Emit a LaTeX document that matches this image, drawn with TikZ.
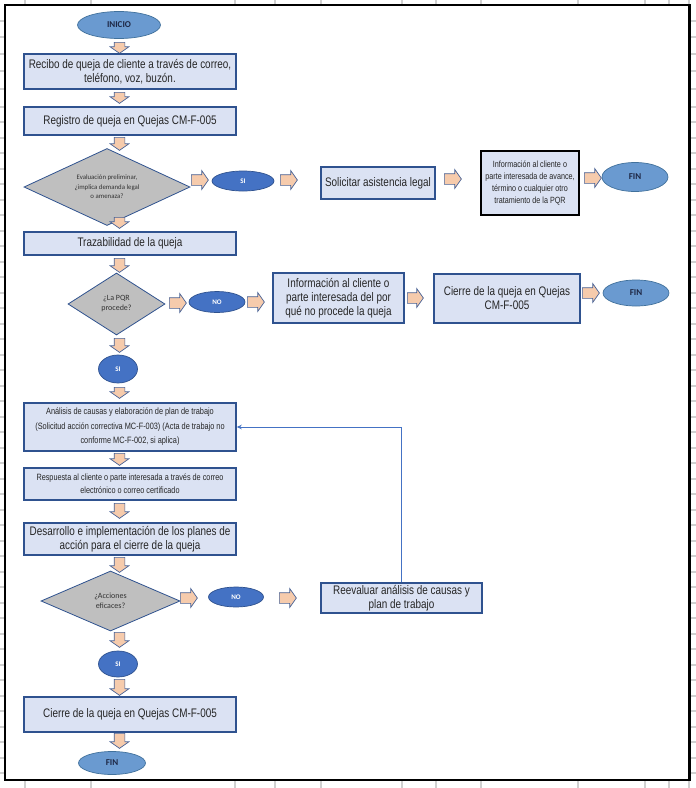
\documentclass[tikz,border=0pt]{standalone}
\usepackage{fontspec}
\newfontfamily\narrowfont[FakeStretch=0.8]{Liberation Sans}
\newfontfamily\calib{Carlito}
\usetikzlibrary{shapes.geometric,shapes.arrows,arrows.meta}
\definecolor{boxfill}{RGB}{219,226,243}
\definecolor{bdr}{RGB}{47,82,143}
\definecolor{abdr}{RGB}{72,98,150}
\definecolor{peach}{RGB}{246,203,172}
\definecolor{diagray}{RGB}{191,191,191}
\definecolor{darkblue}{RGB}{68,114,196}
\definecolor{termblue}{RGB}{106,154,208}
\definecolor{termbdr}{RGB}{65,113,156}
\definecolor{termtext}{RGB}{30,40,70}
\definecolor{gridc}{RGB}{208,208,208}
\begin{document}
\begin{tikzpicture}[x=1pt,y=-1pt,
  box/.style={draw=bdr, line width=1.5pt, fill=boxfill, align=center, inner sep=1pt,
    font=\narrowfont\fontsize{12.4}{14}\selectfont, text=black!85},
  smallbox/.style={box, font=\narrowfont\fontsize{9.2}{14.5}\selectfont},
  dia/.style={diamond, draw=bdr, line width=0.8pt, fill=diagray, align=center, inner sep=0pt,
    font=\calib\fontsize{6.8}{9.5}\selectfont, text=black!80},
  bigdia/.style={dia, font=\calib\fontsize{8}{10}\selectfont},
  yesno/.style={ellipse, draw=bdr, line width=0.7pt, fill=darkblue, text=white,
    font=\calib\bfseries\fontsize{7}{8}\selectfont, inner sep=0pt},
  term/.style={ellipse, draw=termbdr, line width=0.7pt, fill=termblue, text=termtext,
    font=\calib\bfseries\fontsize{9}{10}\selectfont, inner sep=0pt},
  barrow/.style={single arrow, draw=abdr, fill=peach, line width=0.7pt, inner xsep=0pt,
    inner ysep=5pt, single arrow head extend=4pt, single arrow tip angle=110,
    minimum height=#1, anchor=tail},
  barrow/.default=17pt,
  downarr/.style={barrow=#1, rotate=-90},
  downarr/.default=13pt,
  fb/.style={draw=darkblue, line width=0.8pt, -{Stealth[length=5pt,width=4.5pt]}},
  gridl/.style={draw=gridc, line width=1.2pt},
  frame/.style={draw=black, line width=2.5pt}
]
\useasboundingbox (0,0) rectangle (696,788);
\fill[white] (0,0) rectangle (696,788);
% spreadsheet grid outside the frame
\foreach \x in {25,91,235,275,321,402,436,481,578,645,669,689} {
  \draw[gridl] (\x,0) -- (\x,5);
  \draw[gridl] (\x,780) -- (\x,788);
}
\foreach \y in {21,37,54,71,89,107,122,138,153,169,184,200,215,231,246,262,277,293,308,324,339,355,370,386,401,417,432,448,463,479,494,510,525,541,556,572,587,603,618,634,649,665,680,696,711,727,742,758,773} {
  \draw[gridl] (0,\y) -- (4,\y);
  \draw[gridl] (690,\y) -- (696,\y);
}
\draw[frame] (5,5) rectangle (689.5,780);

% main column
\node[term, minimum width=83pt, minimum height=27pt] (ini) at (119,25) {INICIO};
\node[downarr=11pt] (a1) at (119.5,42) {};
\node[box, minimum width=212pt, minimum height=35pt] (b1) at (130,71.5)
  {Recibo de queja de cliente a través de correo,\\teléfono, voz, buzón.};
\node[downarr=11pt] (a2) at (119.5,92) {};
\node[box, minimum width=212pt, minimum height=28pt] (b2) at (130,121)
  {Registro de queja en Quejas CM-F-005};
\node[downarr=13pt] (a3) at (119.5,137) {};
\node[dia, shape aspect=2.2, minimum width=166pt, minimum height=77pt] (d1) at (107,187)
  {Evaluación preliminar,\\¿implica demanda legal\\o amenaza?};
\node[downarr=11pt] (a4) at (119.5,217) {};

% first branch (SI -> legal)
\node[barrow] (a5) at (191,180) {};
\node[yesno, minimum width=62pt, minimum height=20pt] (si1) at (243,181) {SI};
\node[barrow] (a6) at (280,180) {};
\node[box, minimum width=114pt, minimum height=32pt] (leg) at (378,183) {Solicitar asistencia legal};
\node[barrow] (a7) at (444,179) {};
\node[box, draw=black, line width=2pt, minimum width=98pt, minimum height=64pt,
  font=\narrowfont\fontsize{9}{12}\selectfont] (inf1) at (530,183)
  {Información al cliente o\\parte interesada de avance,\\término o cualquier otro\\tratamiento de la PQR};
\node[barrow] (a8) at (584,178) {};
\node[term, minimum width=66pt, minimum height=29pt] (fin1) at (635,177) {FIN};

% trazabilidad
\node[box, minimum width=212pt, minimum height=23pt] (b3) at (130,243.5) {Trazabilidad de la queja};
\node[downarr=14pt] (a9) at (119.5,258) {};
\node[bigdia, shape aspect=1.56, minimum width=97pt, minimum height=62pt] (d2) at (116.5,304)
  {¿La PQR\\procede?};

% NO branch
\node[barrow] (a10) at (169,303) {};
\node[yesno, minimum width=56pt, minimum height=21pt] (no1) at (217,302) {NO};
\node[barrow] (a11) at (247,302) {};
\node[box, minimum width=131pt, minimum height=50pt] (inf2) at (338.5,298)
  {Información al cliente o\\parte interesada del por\\qué no procede la queja};
\node[barrow=16pt] (a12) at (407,298) {};
\node[box, minimum width=146pt, minimum height=49pt] (cie1) at (507,298.5)
  {Cierre de la queja en Quejas\\CM-F-005};
\node[barrow] (a13) at (582,293) {};
\node[term, minimum width=66pt, minimum height=26pt] (fin2) at (636,293) {FIN};

% SI branch
\node[downarr=14pt] (a14) at (119.5,338) {};
\node[yesno, minimum width=39pt, minimum height=28pt] (si2) at (118,369) {SI};
\node[downarr=11pt] (a15) at (119.5,387) {};
\node[smallbox, minimum width=212pt, minimum height=48pt] (b4) at (130,427)
  {Análisis de causas y elaboración de plan de trabajo\\(Solicitud acción correctiva MC-F-003) (Acta de trabajo no\\conforme MC-F-002, si aplica)};
\node[downarr=12pt] (a16) at (119.5,453) {};
\node[smallbox, minimum width=212pt, minimum height=32pt,
  font=\narrowfont\fontsize{9.1}{13}\selectfont] (b5) at (130,484)
  {Respuesta al cliente o parte interesada a través de correo\\electrónico o correo certificado};
\node[downarr=15pt] (a17) at (119.5,503) {};
\node[box, minimum width=212pt, minimum height=32pt] (b6) at (130,539)
  {Desarrollo e implementación de los planes de\\acción para el cierre de la queja};
\node[downarr=15pt] (a18) at (119.5,557) {};
\node[bigdia, shape aspect=2.3, minimum width=139pt, minimum height=60pt] (d3) at (110.5,601)
  {¿Acciones\\eficaces?};

% NO branch 2
\node[barrow] (a19) at (180,598) {};
\node[yesno, minimum width=55pt, minimum height=20pt] (no2) at (236,597) {NO};
\node[barrow] (a20) at (279,598) {};
\node[box, minimum width=161pt, minimum height=30pt] (re) at (401.5,598)
  {Reevaluar análisis de causas y\\plan de trabajo};
\draw[fb] (re.north) |- (b4.east);

% SI branch 2
\node[downarr=15pt] (a21) at (119.5,632) {};
\node[yesno, minimum width=39pt, minimum height=26pt] (si3) at (118,664) {SI};
\node[downarr=16pt] (a22) at (119.5,679) {};
\node[box, minimum width=212pt, minimum height=35pt] (b7) at (130,714.5)
  {Cierre de la queja en Quejas CM-F-005};
\node[downarr=15pt] (a23) at (119.5,733) {};
\node[term, minimum width=67pt, minimum height=23pt] (fin3) at (112,763) {FIN};
\end{tikzpicture}
\end{document}
